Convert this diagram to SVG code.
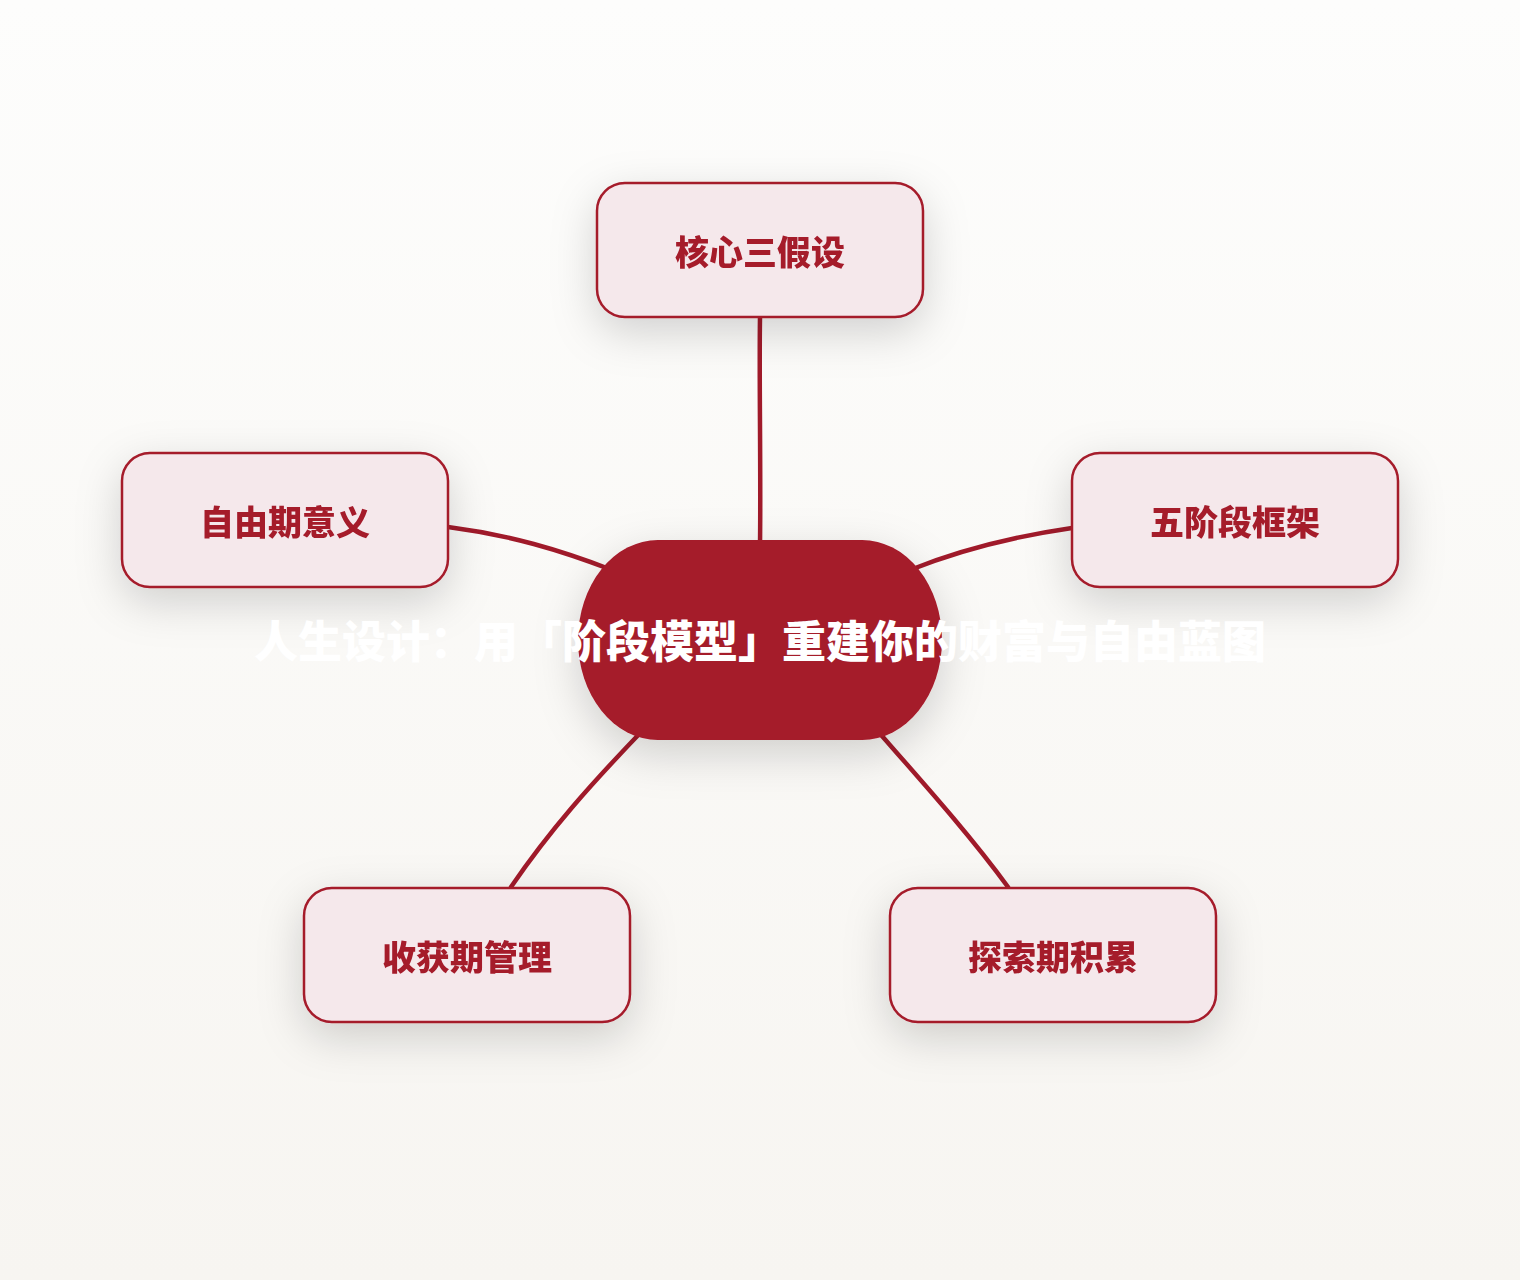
<svg xmlns="http://www.w3.org/2000/svg" width="1520" height="1280" viewBox="0 0 1520 1280">
  <defs>
    <linearGradient id="bg" x1="0" y1="0" x2="0" y2="1">
      <stop offset="0" stop-color="#fdfdfc"/>
      <stop offset="1" stop-color="#f7f5f1"/>
    </linearGradient>
    <filter id="shadow" x="-40%" y="-50%" width="180%" height="220%">
      <feDropShadow dx="0" dy="14" stdDeviation="22" flood-color="#000" flood-opacity="0.17"/>
    </filter>
    <style>
      .node rect { fill: #f5e8eb; stroke: #a51a2b; stroke-width: 2.5; }
      .node text { fill: #a51a2b; font-family: "Noto Sans CJK SC", "Noto Sans", sans-serif; font-weight: 900; font-size: 34px; text-anchor: middle; }
      .edge { fill: none; stroke: #a01a2a; stroke-width: 4.5; stroke-linecap: round; }
      .center-shape { fill: #a51a2a; }
      .center-text { fill: #ffffff; font-family: "Noto Sans CJK SC", "Noto Sans", sans-serif; font-weight: 900; font-size: 44px; text-anchor: middle; }
    </style>
  </defs>
  <rect width="1520" height="1280" fill="url(#bg)"/>

  <g id="connectors">
    <path class="edge" d="M760,317 C759,380 761,470 760,545"/>
    <path class="edge" d="M448,527 C510,535 560,550 612,570"/>
    <path class="edge" d="M1072,528 C1010,537 960,550 910,570"/>
    <path class="edge" d="M511,887 C550,830 590,785 645,728"/>
    <path class="edge" d="M1008,887 C970,835 925,785 875,728"/>
  </g>

  <g id="node-top" class="node" filter="url(#shadow)">
    <rect x="597" y="183" width="326" height="134" rx="28" ry="28"/>
    <text x="760" y="265">核心三假设</text>
  </g>
  <g id="node-left" class="node" filter="url(#shadow)">
    <rect x="122" y="453" width="326" height="134" rx="28" ry="28"/>
    <text x="285" y="535">自由期意义</text>
  </g>
  <g id="node-right" class="node" filter="url(#shadow)">
    <rect x="1072" y="453" width="326" height="134" rx="28" ry="28"/>
    <text x="1235" y="535">五阶段框架</text>
  </g>
  <g id="node-bottom-left" class="node" filter="url(#shadow)">
    <rect x="304" y="888" width="326" height="134" rx="28" ry="28"/>
    <text x="467" y="970">收获期管理</text>
  </g>
  <g id="node-bottom-right" class="node" filter="url(#shadow)">
    <rect x="890" y="888" width="326" height="134" rx="28" ry="28"/>
    <text x="1053" y="970">探索期积累</text>
  </g>

  <g id="node-center">
    <rect class="center-shape" x="578" y="540" width="364" height="200" rx="80" ry="100" filter="url(#shadow)"/>
    <text class="center-text" x="760" y="658">人生设计：用「阶段模型」重建你的财富与自由蓝图</text>
  </g>
</svg>
